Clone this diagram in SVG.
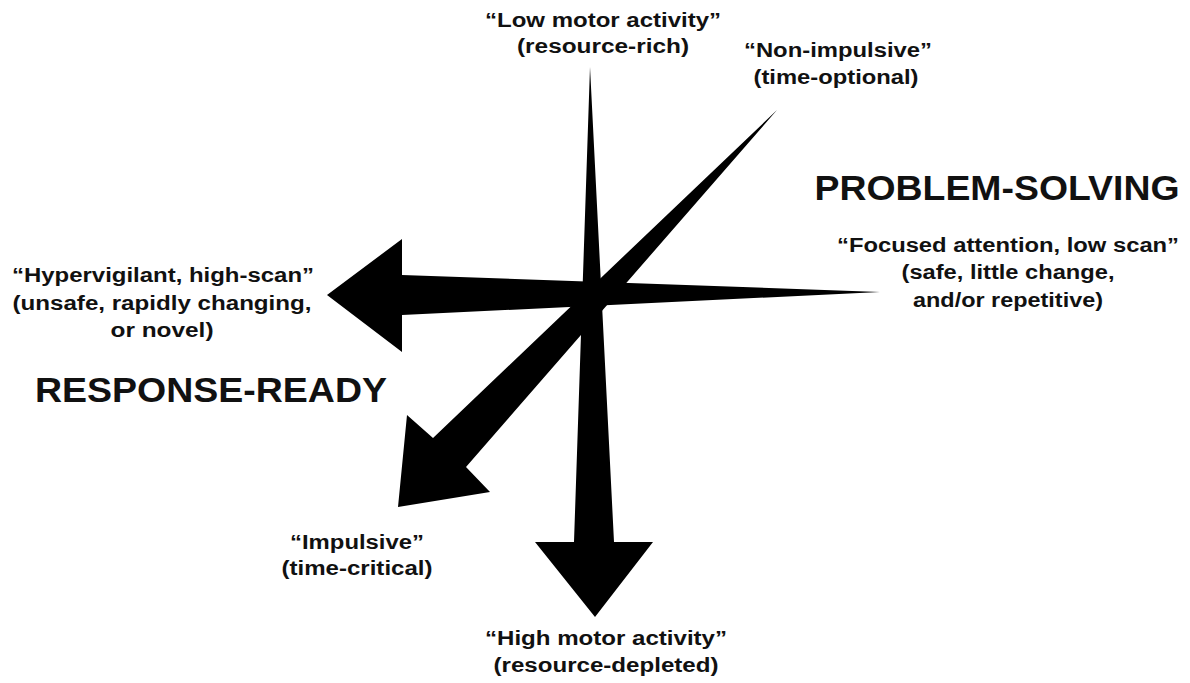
<svg xmlns="http://www.w3.org/2000/svg" width="1190" height="683" viewBox="0 0 1190 683">
<style>
  .lbl { font-family: "Liberation Sans", Arial, sans-serif; font-weight: bold; font-size: 20px; fill: #111; text-anchor: middle; }
  .title { font-family: "Liberation Sans", Arial, sans-serif; font-weight: bold; font-size: 35px; fill: #111; text-anchor: middle; }
  .arrow { fill: #000; stroke: none; }
</style>
<rect width="1190" height="683" fill="#fff"/>
<g id="connectors">
  <polygon class="arrow" points="880,292 402,275 402,239 327,295 402,352 402,315"/>
  <polygon class="arrow" points="590,67 614,542 653,542 595,617 535,542 574,542"/>
  <polygon class="arrow" points="777,110 466,467 490,492 398,507 407,415 433,438"/>
</g>
<g id="low-motor">
  <text class="lbl" x="603" y="27" textLength="236" lengthAdjust="spacingAndGlyphs">“Low motor activity”</text>
  <text class="lbl" x="603" y="53" textLength="172" lengthAdjust="spacingAndGlyphs">(resource-rich)</text>
</g>
<g id="non-impulsive">
  <text class="lbl" x="838" y="57" textLength="188" lengthAdjust="spacingAndGlyphs">“Non-impulsive”</text>
  <text class="lbl" x="836" y="84" textLength="165" lengthAdjust="spacingAndGlyphs">(time-optional)</text>
</g>
<g id="problem-solving">
  <text class="title" x="997" y="200" textLength="365" lengthAdjust="spacingAndGlyphs">PROBLEM-SOLVING</text>
</g>
<g id="focused">
  <text class="lbl" x="1008" y="252" textLength="342" lengthAdjust="spacingAndGlyphs">“Focused attention, low scan”</text>
  <text class="lbl" x="1008" y="279" textLength="213" lengthAdjust="spacingAndGlyphs">(safe, little change,</text>
  <text class="lbl" x="1008" y="307" textLength="190" lengthAdjust="spacingAndGlyphs">and/or repetitive)</text>
</g>
<g id="hypervigilant">
  <text class="lbl" x="163" y="282" textLength="302" lengthAdjust="spacingAndGlyphs">“Hypervigilant, high-scan”</text>
  <text class="lbl" x="162" y="310" textLength="299" lengthAdjust="spacingAndGlyphs">(unsafe, rapidly changing,</text>
  <text class="lbl" x="162" y="337" textLength="103" lengthAdjust="spacingAndGlyphs">or novel)</text>
</g>
<g id="response-ready">
  <text class="title" x="211" y="402" textLength="352" lengthAdjust="spacingAndGlyphs">RESPONSE-READY</text>
</g>
<g id="impulsive">
  <text class="lbl" x="357" y="549" textLength="134" lengthAdjust="spacingAndGlyphs">“Impulsive”</text>
  <text class="lbl" x="357" y="575" textLength="151" lengthAdjust="spacingAndGlyphs">(time-critical)</text>
</g>
<g id="high-motor">
  <text class="lbl" x="606" y="645" textLength="242" lengthAdjust="spacingAndGlyphs">“High motor activity”</text>
  <text class="lbl" x="606" y="672" textLength="225" lengthAdjust="spacingAndGlyphs">(resource-depleted)</text>
</g>
</svg>
